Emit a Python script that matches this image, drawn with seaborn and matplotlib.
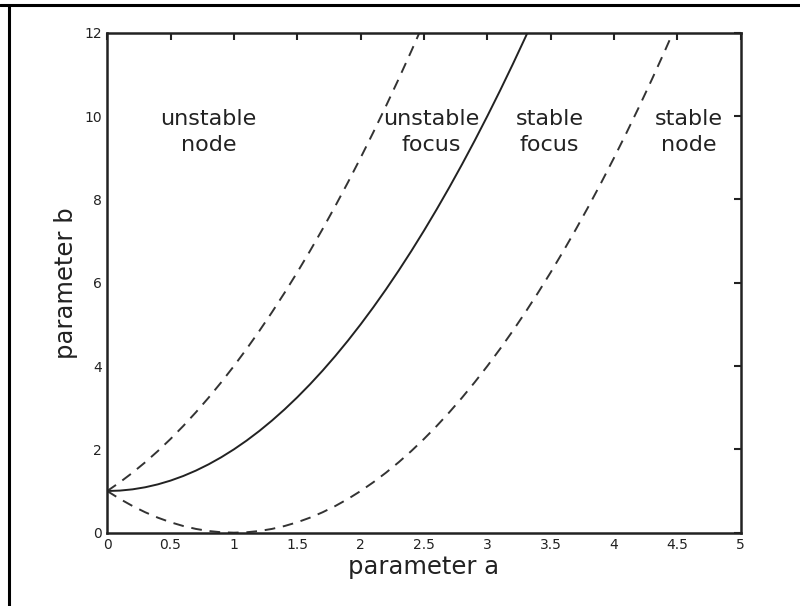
import matplotlib
matplotlib.use("Agg")
import matplotlib.pyplot as plt
from matplotlib.lines import Line2D
import pandas as pd
import seaborn as sns

# values
a_solid = [0, 0.1, 0.2, 0.3, 0.4, 0.5, 0.6, 0.7, 0.8, 0.9, 1.0, 1.1, 1.2, 1.3, 1.4, 1.5, 1.6, 1.7,
           1.8, 1.9, 2.0, 2.1, 2.2, 2.3, 2.4, 2.5, 2.6, 2.7, 2.8, 2.9, 3.0, 3.1, 3.2, 3.3, 3.4]
b_solid = [1.0, 1.01, 1.04, 1.09, 1.16, 1.25, 1.36, 1.49, 1.64, 1.81, 2.0, 2.21, 2.44, 2.69,
           2.96, 3.25, 3.56, 3.89, 4.24, 4.61, 5.0, 5.41, 5.84, 6.29, 6.76, 7.25, 7.76, 8.29,
           8.84, 9.41, 10.0, 10.61, 11.24, 11.89, 12.56]

a_upper = [0, 0.1, 0.2, 0.3, 0.4, 0.5, 0.6, 0.7, 0.8, 0.9, 1.0, 1.1, 1.2, 1.3, 1.4, 1.5, 1.6,
           1.7, 1.8, 1.9, 2.0, 2.1, 2.2, 2.3, 2.4, 2.5]
b_upper = [1.0, 1.21, 1.44, 1.69, 1.96, 2.25, 2.56, 2.89, 3.24, 3.61, 4.0, 4.41, 4.84, 5.29,
           5.76, 6.25, 6.76, 7.29, 7.84, 8.41, 9.0, 9.61, 10.24, 10.89, 11.56, 12.25]

a_lower = [0, 0.1, 0.2, 0.3, 0.4, 0.5, 0.6, 0.7, 0.8, 0.9, 1.0, 1.1, 1.2, 1.3, 1.4, 1.5, 1.6,
           1.7, 1.8, 1.9, 2.0, 2.1, 2.2, 2.3, 2.4, 2.5, 2.6, 2.7, 2.8, 2.9, 3.0, 3.1, 3.2, 3.3,
           3.4, 3.5, 3.6, 3.7, 3.8, 3.9, 4.0, 4.1, 4.2, 4.3, 4.4, 4.5]
b_lower = [1.0, 0.81, 0.64, 0.49, 0.36, 0.25, 0.16, 0.09, 0.04, 0.01, 0.0, 0.01, 0.04, 0.09,
           0.16, 0.25, 0.36, 0.49, 0.64, 0.81, 1.0, 1.21, 1.44, 1.69, 1.96, 2.25, 2.56, 2.89,
           3.24, 3.61, 4.0, 4.41, 4.84, 5.29, 5.76, 6.25, 6.76, 7.29, 7.84, 8.41, 9.0, 9.61,
           10.24, 10.89, 11.56, 12.25]

region_labels = ["unstable\nnode", "unstable\nfocus", "stable\nfocus", "stable\nnode"]
region_x = [0.80, 2.56, 3.49, 4.59]
region_y = [9.62, 9.62, 9.62, 9.62]

x_ticks = [0, 0.5, 1, 1.5, 2, 2.5, 3, 3.5, 4, 4.5, 5]
y_ticks = [0, 2, 4, 6, 8, 10, 12]

sns.set_style("white")
plt.rcParams["font.family"] = ["DejaVu Sans"]

fig = plt.figure(figsize=(8, 6.06), dpi=100)
ax = fig.add_axes([0.134, 0.121, 0.792, 0.825])

solid = pd.DataFrame({"a": a_solid, "b": b_solid})
upper = pd.DataFrame({"a": a_upper, "b": b_upper})
lower = pd.DataFrame({"a": a_lower, "b": b_lower})

sns.lineplot(data=solid, x="a", y="b", ax=ax, color="#222222", lw=1.4, sort=False)
sns.lineplot(data=upper, x="a", y="b", ax=ax, color="#333333", lw=1.4, sort=False,
             linestyle=(0, (5.5, 4)))
sns.lineplot(data=lower, x="a", y="b", ax=ax, color="#333333", lw=1.4, sort=False,
             linestyle=(0, (5.5, 4)))

for lab, x, y in zip(region_labels, region_x, region_y):
    ax.text(x, y, lab, ha="center", va="center", fontsize=16, color="#222222",
            linespacing=1.35)

ax.set_xlim(0, 5)
ax.set_ylim(0, 12)
ax.set_xticks(x_ticks)
ax.set_xticklabels([f"{t:g}" for t in x_ticks])
ax.set_yticks(y_ticks)
ax.set_yticklabels([str(t) for t in y_ticks])
ax.tick_params(direction="in", length=5, width=1.5, top=True, right=True,
               labelsize=10, pad=4, colors="#222222")
for sp in ax.spines.values():
    sp.set_visible(True)
    sp.set_linewidth(1.8)
    sp.set_color("#222222")

ax.set_xlabel("parameter a", fontsize=17.5, color="#222222", labelpad=2)
ax.set_ylabel("parameter b", fontsize=17.5, color="#222222", labelpad=4)

# figure frame (top and left edges)
fig.add_artist(Line2D([0, 1], [0.9925, 0.9925], transform=fig.transFigure, color="black", lw=2.2))
fig.add_artist(Line2D([0.0115, 0.0115], [0, 0.9925], transform=fig.transFigure, color="black", lw=2.2))

fig.savefig("out.png", dpi=100)
